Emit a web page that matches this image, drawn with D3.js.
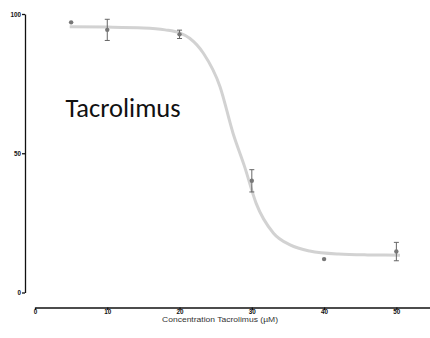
<!DOCTYPE html>
<html>
<head>
<meta charset="utf-8">
<script src="https://cdn.jsdelivr.net/npm/d3@7"></script>
<style>
  body { margin: 0; background: #fff; }
  svg { display: block; font-family: "Liberation Sans", Arial, sans-serif; }
</style>
</head>
<body>
<script>
    //Global variables
        const width = 430;
        const height = 338;

    //Data: measured means with error (SD) at each concentration
        const conc = [5, 10, 20, 30, 40, 50];
        const viability = [97.0, 94.3, 92.7, 40.1, 12.0, 14.7];
        const errs = [0, 3.8, 1.5, 4.0, 0, 3.3];

    //Fitted curve
        const fitX = [4.8, 10, 15, 18, 20, 21.4, 23.3, 25.6, 27.4, 29.0, 30.6, 33.0, 35.3, 38.0, 42, 46, 50.5];
        const fitY = [95.4, 95.3, 95.0, 94.3, 93.2, 91.3, 85.9, 73.9, 57.2, 45.2, 32.0, 21.3, 17.1, 14.9, 13.8, 13.5, 13.4];

        const xTicks = [0, 10, 20, 30, 40, 50];
        const yTicks = [0, 50, 100];
        const xTitle = "Concentration Tacrolimus (\u00B5M)";
        const label = "Tacrolimus";

    //Scales
        const xScale = d3.scaleLinear()
                        .domain([0, 55])
                        .range([35, 432.5]);

        const yScale = d3.scaleLinear()
                        .domain([0, 100])
                        .range([292.5, 14]);

    //SVG element
        const svg = d3.select("body")
                    .append("svg")
                    .attr("width", width)
                    .attr("height", height);

    //Axes
        const leftAxis = d3.axisLeft(yScale)
                           .tickValues(yTicks)
                           .tickSize(3)
                           .tickPadding(1)
                           .tickSizeOuter(0);

        const bottomAxis = d3.axisBottom(xScale)
                             .tickValues(xTicks)
                             .tickSize(2.5)
                             .tickPadding(0)
                             .tickSizeOuter(0);

        const gy = svg.append("g")
            .attr("transform", "translate(25,0)")
            .call(leftAxis);

        const gx = svg.append("g")
            .attr("transform", "translate(0,307.5)")
            .call(bottomAxis);

        [gy, gx].forEach(g => {
            g.select(".domain").attr("stroke", "#111").attr("stroke-width", 1.3);
            g.selectAll(".tick line").attr("stroke", "#111").attr("stroke-width", 1.3);
            g.selectAll(".tick text")
                .attr("fill", "#111")
                .attr("font-size", 6.3)
                .attr("font-weight", "bold")
                .attr("font-family", "'Liberation Sans', Arial, sans-serif");
        });

        svg.append("text")
            .attr("x", xScale(25.6))
            .attr("y", 322)
            .attr("text-anchor", "middle")
            .attr("font-size", 7.2)
            .attr("textLength", 116)
            .attr("lengthAdjust", "spacingAndGlyphs")
            .attr("fill", "#333")
            .text(xTitle);

    //Fitted curve
        const fit = fitX.map((x, i) => ({x: x, y: fitY[i]}));

        svg.append("path")
            .datum(fit)
            .attr("fill", "none")
            .attr("stroke", "#d2d2d2")
            .attr("stroke-width", 3)
            .attr("d", d3.line()
                .x(d => xScale(d.x))
                .y(d => yScale(d.y))
                .curve(d3.curveMonotoneX));

    //Points with error bars
        const pts = conc.map((c, i) => ({x: c, y: viability[i], e: errs[i]}));

        const bars = svg.selectAll(".err")
            .data(pts.filter(d => d.e > 0))
            .enter()
            .append("g")
            .attr("stroke", "#666")
            .attr("stroke-width", 1);

        bars.append("line")
            .attr("x1", d => xScale(d.x))
            .attr("x2", d => xScale(d.x))
            .attr("y1", d => yScale(d.y + d.e))
            .attr("y2", d => yScale(d.y - d.e));

        [1, -1].forEach(s => {
            bars.append("line")
                .attr("x1", d => xScale(d.x) - 2.5)
                .attr("x2", d => xScale(d.x) + 2.5)
                .attr("y1", d => yScale(d.y + s * d.e))
                .attr("y2", d => yScale(d.y + s * d.e));
        });

        svg.selectAll("circle")
            .data(pts)
            .enter()
            .append("circle")
            .attr("cx", d => xScale(d.x))
            .attr("cy", d => yScale(d.y))
            .attr("r", 2.2)
            .attr("fill", "#777");

    //Drug label
        svg.append("text")
            .attr("x", 65.5)
            .attr("y", 116.7)
            .attr("font-size", 26.5)
            .attr("fill", "#111")
            .attr("font-family", "Carlito, 'Liberation Sans', Arial, sans-serif")
            .text(label);
</script>
</body>
</html>
